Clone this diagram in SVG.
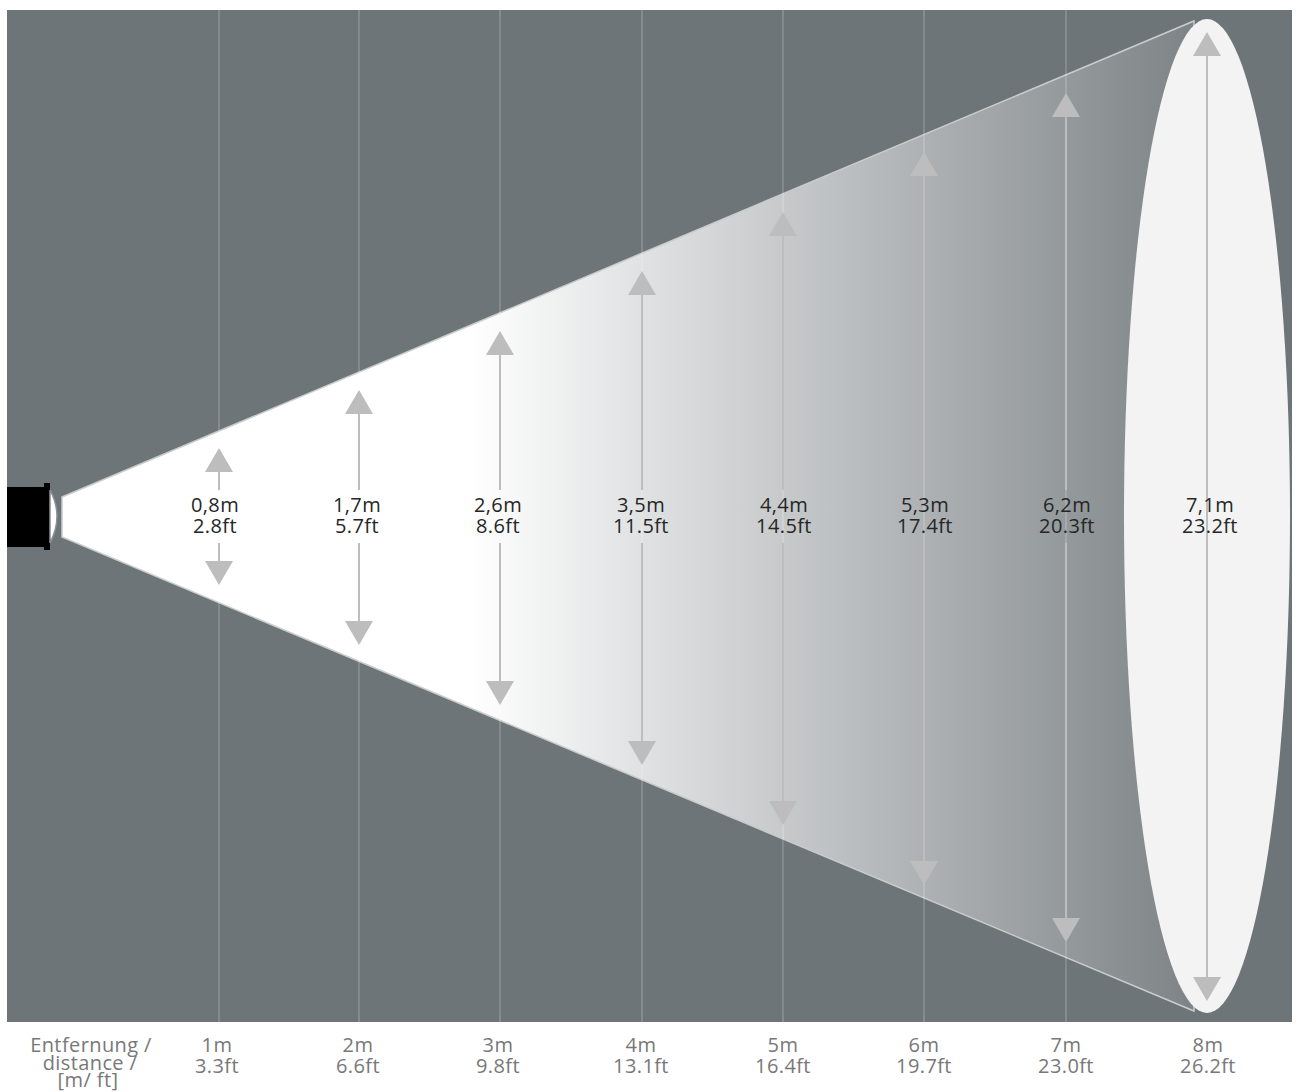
<svg xmlns="http://www.w3.org/2000/svg" width="1304" height="1092" viewBox="0 0 1304 1092">
<style>
.lbl{font-family:"Open Sans","Liberation Sans",sans-serif;font-size:20px;letter-spacing:0.4px;fill:#262626;text-anchor:middle}
.ax{font-family:"Open Sans","Liberation Sans",sans-serif;font-size:20px;letter-spacing:0.4px;fill:#787878;text-anchor:middle}
.grid{stroke:#ffffff;stroke-opacity:0.16;stroke-width:2}
.shaft{stroke:#bdbdbd;stroke-width:2}
.head{fill:#bdbdbd}
</style>
<defs>
<linearGradient id="beam" gradientUnits="userSpaceOnUse" x1="470" y1="0" x2="1195" y2="0">
<stop offset="0" stop-color="#ffffff"/>
<stop offset="1" stop-color="#7d8386"/>
</linearGradient>
</defs>
<rect x="0" y="0" width="1304" height="1092" fill="#ffffff"/>
<rect id="panel" x="7" y="10" width="1285" height="1012" fill="#6e7578"/>
<g id="beam-cone">
<polygon points="62,497 1194,21 1194,1011 62,537" fill="url(#beam)" stroke="#c9cccd" stroke-width="1.5"/>
</g>
<g id="target-ellipse">
<ellipse cx="1207" cy="516" rx="83" ry="497" fill="#f3f3f3"/>
</g>
<g id="grid">
<line class="grid" x1="219" y1="10" x2="219" y2="1022"/>
<line class="grid" x1="359" y1="10" x2="359" y2="1022"/>
<line class="grid" x1="500" y1="10" x2="500" y2="1022"/>
<line class="grid" x1="642" y1="10" x2="642" y2="1022"/>
<line class="grid" x1="783" y1="10" x2="783" y2="1022"/>
<line class="grid" x1="924" y1="10" x2="924" y2="1022"/>
<line class="grid" x1="1066" y1="10" x2="1066" y2="1022"/>
</g>
<g id="lamp">
<rect x="7" y="487" width="39" height="60" fill="#000"/>
<rect x="44" y="483" width="6" height="67" fill="#000"/>
<path d="M50,490 Q64,516 50,543 Z" fill="#ffffff" stroke="#8a9093" stroke-width="1.5"/>
</g>
<g id="connectors">
<line class="shaft" x1="219" y1="470" x2="219" y2="490"/><polygon class="head" points="219,448 205,472 233,472"/>
<line class="shaft" x1="219" y1="543" x2="219" y2="563"/><polygon class="head" points="219,585 205,561 233,561"/>
<line class="shaft" x1="359" y1="412" x2="359" y2="490"/><polygon class="head" points="359,390 345,414 373,414"/>
<line class="shaft" x1="359" y1="543" x2="359" y2="623"/><polygon class="head" points="359,645 345,621 373,621"/>
<line class="shaft" x1="500" y1="353" x2="500" y2="490"/><polygon class="head" points="500,331 486,355 514,355"/>
<line class="shaft" x1="500" y1="543" x2="500" y2="683"/><polygon class="head" points="500,705 486,681 514,681"/>
<line class="shaft" x1="642" y1="293" x2="642" y2="490"/><polygon class="head" points="642,271 628,295 656,295"/>
<line class="shaft" x1="642" y1="543" x2="642" y2="743"/><polygon class="head" points="642,765 628,741 656,741"/>
<line class="shaft" x1="783" y1="234" x2="783" y2="490"/><polygon class="head" points="783,212 769,236 797,236"/>
<line class="shaft" x1="783" y1="543" x2="783" y2="803"/><polygon class="head" points="783,825 769,801 797,801"/>
<line class="shaft" x1="924" y1="174" x2="924" y2="490"/><polygon class="head" points="924,152 910,176 938,176"/>
<line class="shaft" x1="924" y1="543" x2="924" y2="863"/><polygon class="head" points="924,885 910,861 938,861"/>
<line class="shaft" x1="1066" y1="115" x2="1066" y2="490"/><polygon class="head" points="1066,93 1052,117 1080,117"/>
<line class="shaft" x1="1066" y1="543" x2="1066" y2="920"/><polygon class="head" points="1066,942 1052,918 1080,918"/>
<line class="shaft" x1="1207" y1="54" x2="1207" y2="978"/><polygon class="head" points="1207,32 1193,56 1221,56"/>
<polygon class="head" points="1207,1001 1193,977 1221,977"/>
</g>
<g id="beam-labels">
<text class="lbl" x="215" y="512">0,8m</text><text class="lbl" x="215" y="533">2.8ft</text>
<text class="lbl" x="357" y="512">1,7m</text><text class="lbl" x="357" y="533">5.7ft</text>
<text class="lbl" x="498" y="512">2,6m</text><text class="lbl" x="498" y="533">8.6ft</text>
<text class="lbl" x="641" y="512">3,5m</text><text class="lbl" x="641" y="533">11.5ft</text>
<text class="lbl" x="784" y="512">4,4m</text><text class="lbl" x="784" y="533">14.5ft</text>
<text class="lbl" x="925" y="512">5,3m</text><text class="lbl" x="925" y="533">17.4ft</text>
<text class="lbl" x="1067" y="512">6,2m</text><text class="lbl" x="1067" y="533">20.3ft</text>
<text class="lbl" x="1210" y="512">7,1m</text><text class="lbl" x="1210" y="533">23.2ft</text>
</g>
<g id="axis-labels">
<text class="ax" x="91" y="1052">Entfernung /</text>
<text class="ax" x="90" y="1070">distance /</text>
<text class="ax" x="88" y="1087">[m/ ft]</text>
<text class="ax" x="217" y="1052">1m</text><text class="ax" x="217" y="1073">3.3ft</text>
<text class="ax" x="358" y="1052">2m</text><text class="ax" x="358" y="1073">6.6ft</text>
<text class="ax" x="498" y="1052">3m</text><text class="ax" x="498" y="1073">9.8ft</text>
<text class="ax" x="641" y="1052">4m</text><text class="ax" x="641" y="1073">13.1ft</text>
<text class="ax" x="783" y="1052">5m</text><text class="ax" x="783" y="1073">16.4ft</text>
<text class="ax" x="924" y="1052">6m</text><text class="ax" x="924" y="1073">19.7ft</text>
<text class="ax" x="1066" y="1052">7m</text><text class="ax" x="1066" y="1073">23.0ft</text>
<text class="ax" x="1208" y="1052">8m</text><text class="ax" x="1208" y="1073">26.2ft</text>
</g>
</svg>
